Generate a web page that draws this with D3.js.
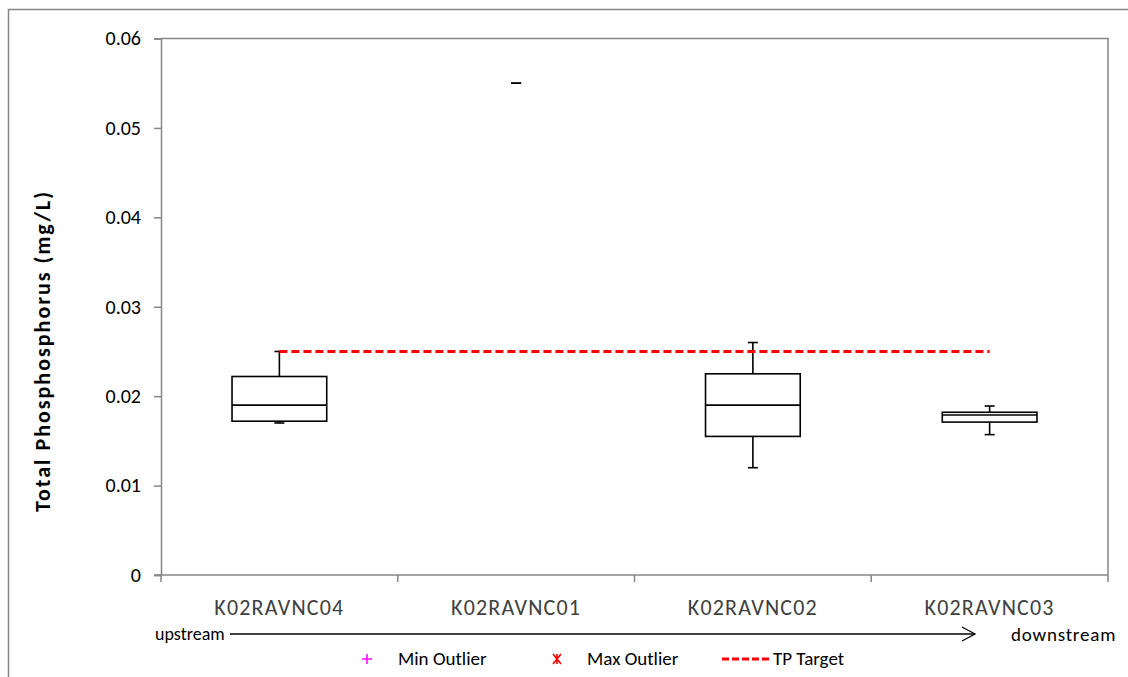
<!DOCTYPE html>
<html>
<head>
<meta charset="utf-8">
<script src="https://cdn.jsdelivr.net/npm/d3@7"></script>
<style>
  html, body { margin: 0; padding: 0; background: #fff; }
  svg { display: block; font-family: Carlito, Lato, "Open Sans", sans-serif; }
</style>
</head>
<body>
<svg id="chart" width="1128" height="677"></svg>
<script>
// Monitoring sites, ordered upstream to downstream
const categories = ["K02RAVNC04", "K02RAVNC01", "K02RAVNC02", "K02RAVNC03"];
// Box-plot statistics for total phosphorus (mg/L)
const minValues    = [0.0170, 0.0550, 0.0120, 0.0157];
const q1Values     = [0.0172, 0.0550, 0.0155, 0.0171];
const medianValues = [0.0190, 0.0550, 0.0190, 0.0179];
const q3Values     = [0.0222, 0.0550, 0.0225, 0.0182];
const maxValues    = [0.0250, 0.0550, 0.0260, 0.0189];
const tpTarget = 0.025;
const yTicks = [0, 0.01, 0.02, 0.03, 0.04, 0.05, 0.06];
const legendLabels = ["Min Outlier", "Max Outlier", "TP Target"];

const svg = d3.select("#chart");
const axisColor = "#868686";
const plot = { left: 161, top: 38.5, right: 1108, bottom: 575 };

// Outer chart frame
svg.append("rect")
  .attr("x", 8.5).attr("y", 9.5)
  .attr("width", 1140).attr("height", 700)
  .attr("fill", "none").attr("stroke", axisColor).attr("stroke-width", 1.5);

const x = d3.scaleBand().domain(categories)
  .range([plot.left, plot.right]).paddingInner(0).paddingOuter(0);
const y = d3.scaleLinear().domain([0, 0.06]).range([plot.bottom, plot.top]);

// Plot area border (top and right)
svg.append("path")
  .attr("d", `M${plot.left},${plot.top}H${plot.right}V${plot.bottom}`)
  .attr("fill", "none").attr("stroke", axisColor).attr("stroke-width", 1.5);

// Y axis
const yAxis = svg.append("g")
  .attr("transform", `translate(${plot.left},0)`)
  .call(d3.axisLeft(y).tickValues(yTicks).tickSize(7).tickPadding(13)
    .tickFormat(d => d === 0 ? "0" : d3.format(".2f")(d)));
yAxis.select(".domain").attr("stroke", axisColor).attr("stroke-width", 1.5);
yAxis.selectAll(".tick line").attr("stroke", axisColor).attr("stroke-width", 1.5);
yAxis.selectAll(".tick text").attr("fill", "#000").style("font-size", "20px")
  .style("font-family", "Carlito, Lato, 'Open Sans', sans-serif");

// X axis with ticks at category boundaries
const xAxisG = svg.append("g").attr("transform", `translate(0,${plot.bottom})`);
xAxisG.append("line")
  .attr("x1", plot.left - 7).attr("x2", plot.right)
  .attr("stroke", axisColor).attr("stroke-width", 1.5);
const boundaries = categories.map(c => x(c)).concat([plot.right]);
xAxisG.selectAll(".bt").data(boundaries).join("line")
  .attr("x1", d => d).attr("x2", d => d)
  .attr("y1", 0).attr("y2", 7)
  .attr("stroke", axisColor).attr("stroke-width", 1.5);
xAxisG.selectAll(".lbl").data(categories).join("text")
  .attr("x", d => x(d) + x.bandwidth() / 2)
  .attr("y", 40)
  .attr("text-anchor", "middle")
  .attr("fill", "#404040")
  .style("font-size", "22px")
  .style("letter-spacing", "1.2px")
  .text(d => d);

// Y axis title
svg.append("text")
  .attr("transform", `translate(50,351) rotate(-90)`)
  .attr("text-anchor", "middle")
  .style("font-size", "22px").style("font-weight", "bold")
  .style("letter-spacing", "2px")
  .text("Total Phosphosphorus (mg/L)");

// Box plots
const boxW = x.bandwidth() * 0.4;
const capW = 10;
const stats = categories.map((c, i) => ({
  cat: c, min: minValues[i], q1: q1Values[i], med: medianValues[i],
  q3: q3Values[i], max: maxValues[i]
}));
const boxes = svg.append("g").selectAll("g").data(stats).join("g")
  .attr("transform", d => `translate(${x(d.cat) + x.bandwidth() / 2},0)`);

const lineStyle = sel => sel.attr("stroke", "#000").attr("stroke-width", 1.6).attr("fill", "none");

// whiskers
boxes.filter(d => d.max > d.q3).append("line")
  .attr("x1", 0).attr("x2", 0).attr("y1", d => y(d.q3)).attr("y2", d => y(d.max)).call(lineStyle);
boxes.filter(d => d.min < d.q1).append("line")
  .attr("x1", 0).attr("x2", 0).attr("y1", d => y(d.q1)).attr("y2", d => y(d.min)).call(lineStyle);
// caps
boxes.append("line")
  .attr("x1", -capW / 2).attr("x2", capW / 2)
  .attr("y1", d => y(d.max)).attr("y2", d => y(d.max)).call(lineStyle);
boxes.append("line")
  .attr("x1", -capW / 2).attr("x2", capW / 2)
  .attr("y1", d => y(d.min)).attr("y2", d => y(d.min)).call(lineStyle);
// boxes (only when there is spread)
const withBox = boxes.filter(d => d.q3 > d.q1);
withBox.append("rect")
  .attr("x", -boxW / 2).attr("width", boxW)
  .attr("y", d => y(d.q3)).attr("height", d => y(d.q1) - y(d.q3))
  .call(lineStyle).attr("fill", "#fff");
withBox.append("line")
  .attr("x1", -boxW / 2).attr("x2", boxW / 2)
  .attr("y1", d => y(d.med)).attr("y2", d => y(d.med)).call(lineStyle);

// TP target line from first to last site
const firstC = x(categories[0]) + x.bandwidth() / 2;
const lastC = x(categories[categories.length - 1]) + x.bandwidth() / 2;
svg.append("line")
  .attr("x1", firstC).attr("x2", lastC)
  .attr("y1", y(tpTarget)).attr("y2", y(tpTarget))
  .attr("stroke", "#ff0000").attr("stroke-width", 3)
  .attr("stroke-dasharray", "8,4");

// Upstream → downstream arrow
const arrowY = 634;
svg.append("text").attr("x", 155).attr("y", arrowY + 6)
  .style("font-size", "18px").text("upstream");
svg.append("line").attr("x1", 230).attr("x2", 975)
  .attr("y1", arrowY).attr("y2", arrowY)
  .attr("stroke", "#000").attr("stroke-width", 1.3);
svg.append("path")
  .attr("d", `M962,${arrowY - 7}L975,${arrowY}L962,${arrowY + 7}`)
  .attr("fill", "none").attr("stroke", "#000").attr("stroke-width", 1.3);
svg.append("text").attr("x", 1011).attr("y", arrowY + 7)
  .style("font-size", "19px").style("letter-spacing", "0.8px").text("downstream");

// Legend
const legY = 659;
const leg = svg.append("g");
// min outlier marker (+)
leg.append("path")
  .attr("d", `M362,${legY}h10M367,${legY - 5}v10`)
  .attr("stroke", "#ff00ff").attr("stroke-width", 1.5);
leg.append("text").attr("x", 398).attr("y", legY + 6)
  .style("font-size", "19px").text(legendLabels[0]);
// max outlier marker (x with bar)
leg.append("path")
  .attr("d", `M553,${legY - 5}l8,10M561,${legY - 5}l-8,10M557,${legY - 5}v10`)
  .attr("stroke", "#ff0000").attr("stroke-width", 1.6);
leg.append("text").attr("x", 587).attr("y", legY + 6)
  .style("font-size", "19px").text(legendLabels[1]);
// TP target
leg.append("line").attr("x1", 722).attr("x2", 770)
  .attr("y1", legY).attr("y2", legY)
  .attr("stroke", "#ff0000").attr("stroke-width", 3).attr("stroke-dasharray", "7,3");
leg.append("text").attr("x", 773).attr("y", legY + 6)
  .style("font-size", "19px").text(legendLabels[2]);
</script>
</body>
</html>
